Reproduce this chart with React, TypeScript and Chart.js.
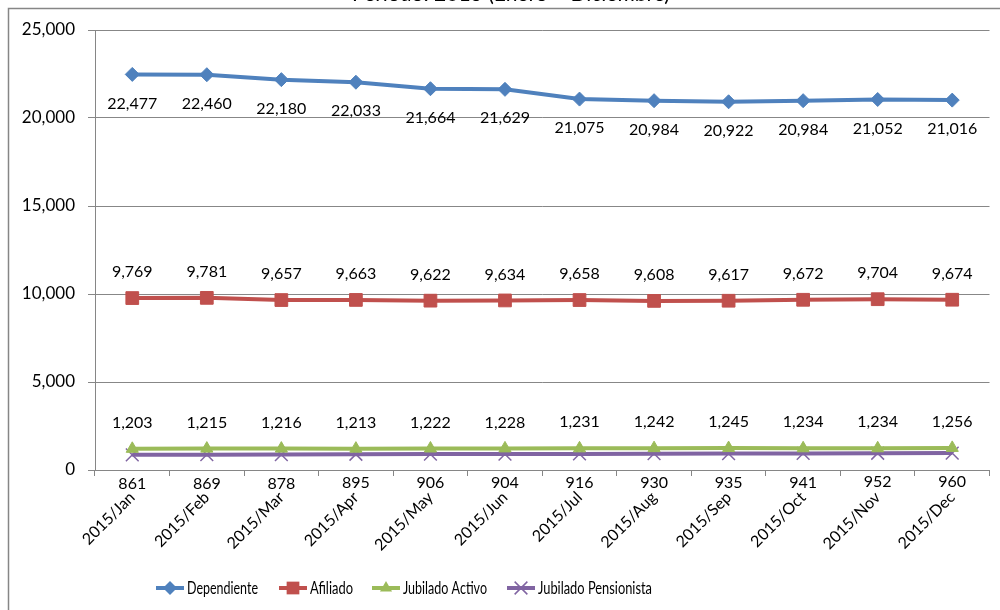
import React, { useEffect, useRef } from "react";
import { Chart, registerables } from "chart.js";

Chart.register(...registerables);

const categories = [
  "2015/Jan", "2015/Feb", "2015/Mar", "2015/Apr", "2015/May", "2015/Jun",
  "2015/Jul", "2015/Aug", "2015/Sep", "2015/Oct", "2015/Nov", "2015/Dec",
];
const dependiente = [22477, 22460, 22180, 22033, 21664, 21629, 21075, 20984, 20922, 20984, 21052, 21016];
const afiliado = [9769, 9781, 9657, 9663, 9622, 9634, 9658, 9608, 9617, 9672, 9704, 9674];
const jubiladoActivo = [1203, 1215, 1216, 1213, 1222, 1228, 1231, 1242, 1245, 1234, 1234, 1256];
const jubiladoPensionista = [861, 869, 878, 895, 906, 904, 916, 930, 935, 941, 952, 960];
const seriesNames = ["Dependiente", "Afiliado", "Jubilado Activo", "Jubilado Pensionista"];
const yTicks = [0, 5000, 10000, 15000, 20000, 25000];
const titleText = "Periodo: 2015 (Enero – Diciembre)";

const FONT = "Lato, 'Open Sans', sans-serif";
const LEGEND_FONT = "'Liberation Sans Narrow', Lato, sans-serif";
const colors = ["#4F81BD", "#C0504D", "#9BBB59", "#8064A2"];
const pointStyles = ["rectRot", "rect", "triangle", "crossRot"];
const pointRadii = [7, 9, 7, 9];
const labelOffsets = [29, -26, -26, 29];

const fmt = (v: number) => v.toLocaleString("en-US");

function drawMarker(ctx: CanvasRenderingContext2D, style: string, x: number, y: number, r: number, color: string) {
  ctx.save();
  ctx.fillStyle = color;
  ctx.strokeStyle = color;
  ctx.beginPath();
  if (style === "rectRot") {
    ctx.moveTo(x - r, y);
    ctx.lineTo(x, y - r);
    ctx.lineTo(x + r, y);
    ctx.lineTo(x, y + r);
    ctx.closePath();
    ctx.fill();
  } else if (style === "rect") {
    const s = r * Math.SQRT1_2;
    ctx.rect(x - s, y - s, 2 * s, 2 * s);
    ctx.fill();
  } else if (style === "triangle") {
    ctx.moveTo(x - r * 0.866, y + r * 0.5);
    ctx.lineTo(x, y - r);
    ctx.lineTo(x + r * 0.866, y + r * 0.5);
    ctx.closePath();
    ctx.fill();
  } else {
    const s = r * Math.SQRT1_2;
    ctx.lineWidth = 1.5;
    ctx.moveTo(x - s, y - s);
    ctx.lineTo(x + s, y + s);
    ctx.moveTo(x + s, y - s);
    ctx.lineTo(x - s, y + s);
    ctx.stroke();
  }
  ctx.restore();
}

const decorPlugin = {
  id: "decor",
  beforeDraw(chart: any) {
    const ctx = chart.ctx;
    ctx.save();
    ctx.fillStyle = "#ffffff";
    ctx.fillRect(0, 0, chart.width, chart.height);
    ctx.strokeStyle = "#868686";
    ctx.lineWidth = 1.5;
    ctx.beginPath();
    ctx.moveTo(8.5, chart.height + 5);
    ctx.lineTo(8.5, 8.5);
    ctx.lineTo(chart.width + 5, 8.5);
    ctx.stroke();
    ctx.fillStyle = "#000";
    ctx.font = `21px ${FONT}`;
    ctx.textAlign = "center";
    ctx.textBaseline = "alphabetic";
    ctx.fillText(titleText, 511, 1);
    ctx.restore();
  },
  afterDatasetsDraw(chart: any) {
    const ctx = chart.ctx;
    ctx.save();
    ctx.font = `16px ${FONT}`;
    ctx.fillStyle = "#000";
    ctx.textAlign = "center";
    ctx.textBaseline = "middle";
    chart.data.datasets.forEach((ds: any, i: number) => {
      const meta = chart.getDatasetMeta(i);
      meta.data.forEach((pt: any, j: number) => {
        ctx.fillText(fmt(ds.data[j]), pt.x, pt.y + labelOffsets[i]);
      });
    });
    // legend (Excel style: line with marker, then name)
    const ly = 588;
    const starts = [156, 279, 372, 507];
    const ends = [258, 353, 487, 652];
    ctx.font = `17px ${LEGEND_FONT}`;
    ctx.textAlign = "left";
    seriesNames.forEach((name, i) => {
      const x = starts[i];
      ctx.strokeStyle = colors[i];
      ctx.lineWidth = 4;
      ctx.beginPath();
      ctx.moveTo(x, ly);
      ctx.lineTo(x + 28, ly);
      ctx.stroke();
      drawMarker(ctx, pointStyles[i], x + 14, ly, pointRadii[i], colors[i]);
      ctx.fillStyle = "#000";
      ctx.fillText(name, x + 31, ly + 1, ends[i] - (x + 31));
    });
    ctx.restore();
  },
};

export default function App() {
  const ref = useRef<HTMLCanvasElement>(null);
  useEffect(() => {
    if (!ref.current) return;
    const seriesData = [dependiente, afiliado, jubiladoActivo, jubiladoPensionista];
    const chart = new Chart(ref.current, {
      type: "line",
      data: {
        labels: categories,
        datasets: seriesData.map((d, i) => ({
          label: seriesNames[i],
          data: d,
          borderColor: colors[i],
          backgroundColor: colors[i],
          borderWidth: 4,
          pointStyle: pointStyles[i] as any,
          pointRadius: pointRadii[i],
          pointBorderWidth: i === 3 ? 1.5 : 1,
          pointBorderColor: colors[i],
          pointBackgroundColor: colors[i],
          tension: 0,
          fill: false,
        })),
      },
      options: {
        responsive: false,
        animation: false,
        events: [],
        layout: { padding: { left: 0, right: 10, top: 30, bottom: 0 } },
        plugins: {
          legend: { display: false },
          title: { display: false },
          tooltip: { enabled: false },
        },
        scales: {
          x: {
            type: "category",
            offset: true,
            grid: {
              offset: true,
              drawOnChartArea: false,
              drawTicks: true,
              tickLength: 6,
              color: "#868686",
            },
            border: { color: "#868686", width: 1 },
            ticks: {
              minRotation: 45,
              maxRotation: 45,
              padding: 12,
              color: "#000",
              font: { family: FONT, size: 16 },
            },
            afterFit: (s: any) => {
              s.height = 140;
            },
          },
          y: {
            min: 0,
            max: 25000,
            afterBuildTicks: (s: any) => {
              s.ticks = yTicks.map((v) => ({ value: v }));
            },
            grid: {
              color: "#878787",
              tickLength: 7,
              drawTicks: true,
            },
            border: { color: "#868686", width: 1 },
            ticks: {
              padding: 13,
              color: "#000",
              font: { family: FONT, size: 17 },
              callback: (v: any) => fmt(Number(v)),
            },
            afterFit: (s: any) => {
              s.width = 95;
            },
          },
        },
      },
      plugins: [decorPlugin],
    });
    return () => chart.destroy();
  }, []);
  return (
    <div style={{ position: "absolute", left: 0, top: 0, width: 1000, height: 610 }}>
      <canvas ref={ref} width={1000} height={610} />
    </div>
  );
}
